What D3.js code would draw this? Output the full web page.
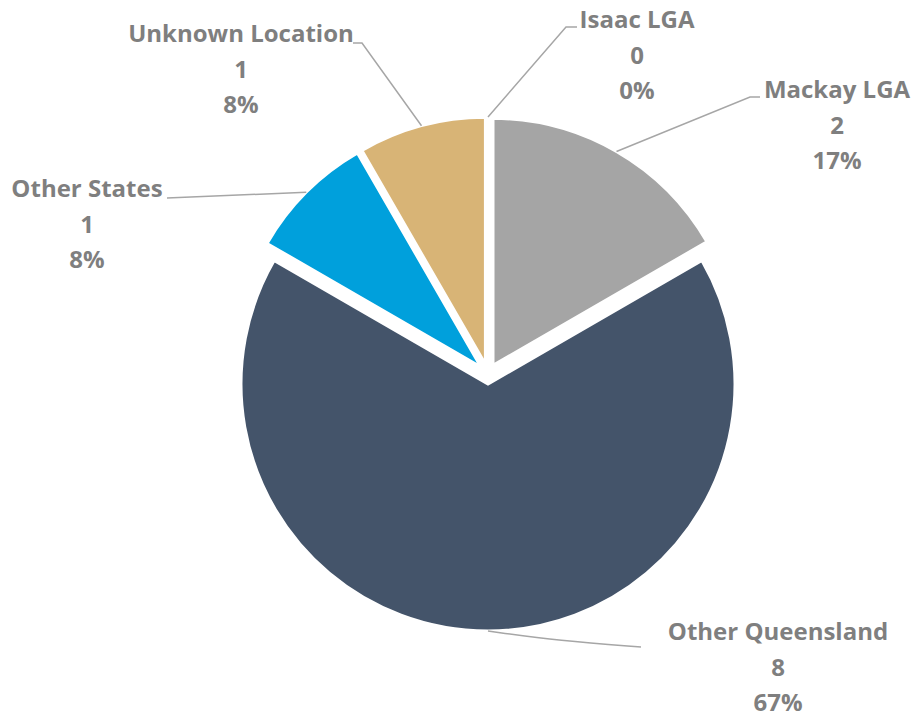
<!DOCTYPE html>
<html>
<head>
<meta charset="utf-8">
<script src="https://cdn.jsdelivr.net/npm/d3@7"></script>
<style>
  html, body { margin: 0; padding: 0; background: #ffffff; }
  svg { display: block; }
</style>
</head>
<body>
<svg id="chart" width="918" height="718"></svg>
<script>
// ---- data ----
const categories = ["Isaac LGA", "Mackay LGA", "Other Queensland", "Other States", "Unknown Location"];
const values = [0, 2, 8, 1, 1];
const percentLabels = ["0%", "17%", "67%", "8%", "8%"];
const colors = ["#5b9bd5", "#a5a5a5", "#44546a", "#00a0dc", "#d8b476"];

// ---- layout ----
const W = 918, H = 718;
const cx = 488, cy = 374, R = 247, explode = 10;
const lineH = 35.5;
// label placement: text centre x, first baseline y, leader elbow points
const labelLayout = {
  "Isaac LGA":        { x: 637, y: 28,  path: [[566, 27], [577, 27]] },
  "Mackay LGA":       { x: 837, y: 98,  path: [[750, 97], [760, 97]] },
  "Other Queensland": { x: 778, y: 640, path: [[560, 641], [641, 647]] },
  "Other States":     { x: 87,  y: 197, path: [[167, 198]] },
  "Unknown Location": { x: 241, y: 42,  path: [[362, 43], [353, 43]] }
};

const svg = d3.select("#chart");
const g = svg.append("g");

const pie = d3.pie().sort(null).value(d => d.value);
const data = categories.map((c, i) => ({ name: c, value: values[i], pct: percentLabels[i], color: colors[i] }));
const arcs = pie(data);
const arc = d3.arc().innerRadius(0).outerRadius(R);

function offset(d) {
  const a = (d.startAngle + d.endAngle) / 2;
  return [cx + explode * Math.sin(a), cy - explode * Math.cos(a)];
}

g.selectAll("path.slice")
  .data(arcs.filter(d => d.value > 0))
  .enter().append("path")
  .attr("class", "slice")
  .attr("d", arc)
  .attr("transform", d => { const o = offset(d); return `translate(${o[0]},${o[1]})`; })
  .attr("fill", d => d.data.color)
  .attr("stroke", "#ffffff")
  .attr("stroke-width", 3)
  .attr("stroke-linejoin", "miter");

// leader lines
arcs.forEach(d => {
  const a = (d.startAngle + d.endAngle) / 2;
  const o = offset(d);
  const anchor = [o[0] + R * Math.sin(a), o[1] - R * Math.cos(a)];
  const L = labelLayout[d.data.name];
  const curved = d.data.name === "Other Queensland";
  const gen = d3.line().curve(curved ? d3.curveBasis : d3.curveLinear);
  g.append("path")
    .attr("d", gen([anchor].concat(L.path)))
    .attr("fill", "none")
    .attr("stroke", "#a6a6a6")
    .attr("stroke-width", 1.5);
});

// labels
arcs.forEach(d => {
  const L = labelLayout[d.data.name];
  const t = g.append("text")
    .attr("text-anchor", "middle")
    .attr("font-family", "'Open Sans', sans-serif")
    .attr("font-weight", "bold")
    .attr("font-size", 24)
    .attr("fill", "#7f7f7f");
  [d.data.name, String(d.data.value), d.data.pct].forEach((s, i) => {
    t.append("tspan").attr("x", L.x).attr("y", L.y + i * lineH).text(s);
  });
});
</script>
</body>
</html>
